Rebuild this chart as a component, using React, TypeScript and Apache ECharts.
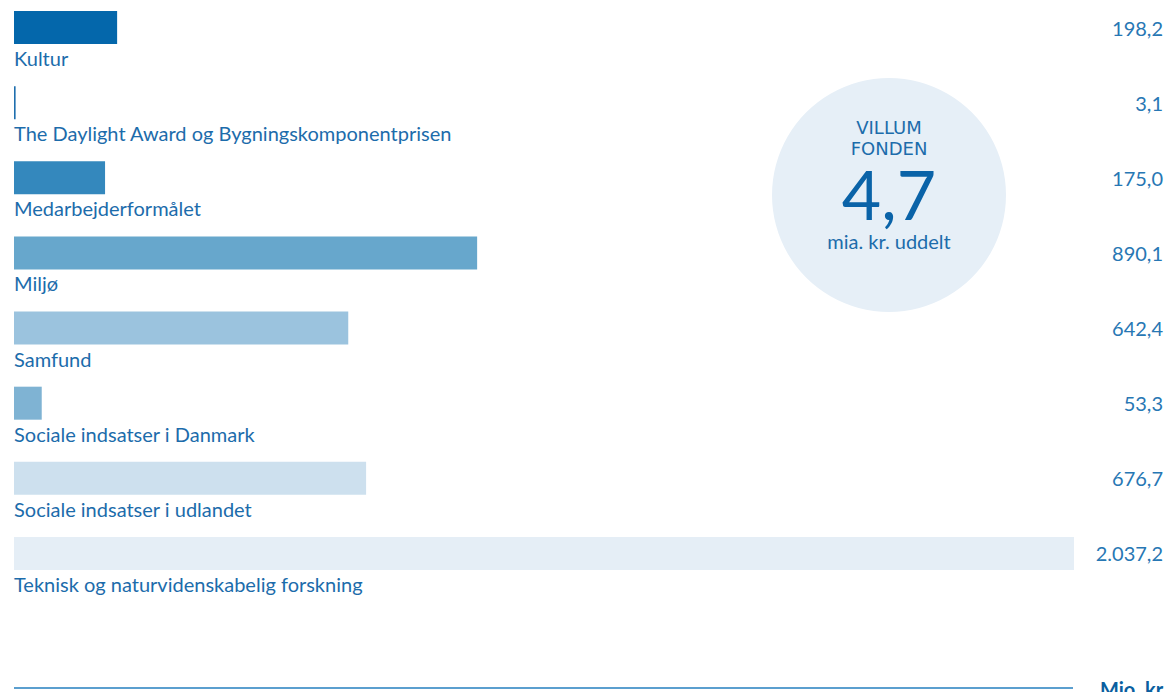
import React, { useEffect, useRef } from "react";
import * as echarts from "echarts";

const categories = [
  "Kultur",
  "The Daylight Award og Bygningskomponentprisen",
  "Medarbejderformålet",
  "Miljø",
  "Samfund",
  "Sociale indsatser i Danmark",
  "Sociale indsatser i udlandet",
  "Teknisk og naturvidenskabelig forskning",
];
const values = [198.2, 3.1, 175.0, 890.1, 642.4, 53.3, 676.7, 2037.2];
const barColors = [
  "#0467ab",
  "#1f6fae",
  "#3488bd",
  "#67a7cc",
  "#9bc3de",
  "#7fb3d3",
  "#cde0ee",
  "#e5eef6",
];
const unitLabel = "Mio. kr.";
const badgeTitle = ["VILLUM", "FONDEN"];
const badgeValue = "4,7";
const badgeSub = "mia. kr. uddelt";

const FONT = "Lato, 'Open Sans', sans-serif";
const TEXT = "#1c6cab";
const OFF = 10; // the chart div starts 10px above the page

function fmt(v: number): string {
  const [i, d] = v.toFixed(1).split(".");
  const withSep = i.replace(/\B(?=(\d{3})+(?!\d))/g, ".");
  return withSep + "," + d;
}

export default function App() {
  const ref = useRef<HTMLDivElement>(null);
  useEffect(() => {
    if (!ref.current) return;
    const chart = echarts.init(ref.current, null, { renderer: "svg" });
    chart.setOption({
      animation: false,
      grid: { left: 14, right: 100, top: 0, height: 601 },
      xAxis: {
        type: "value",
        min: 0,
        max: 2037.2,
        show: false,
      },
      yAxis: [
        {
          type: "category",
          data: categories,
          inverse: true,
          show: false,
        },
        {
          type: "category",
          data: values.map(fmt),
          inverse: true,
          position: "right",
          axisLine: { show: false },
          axisTick: { show: false },
          splitLine: { show: false },
          axisLabel: {
            align: "right",
            margin: 89,
            fontSize: 20,
            fontFamily: FONT,
            color: "#2777b4",
          },
        },
      ],
      graphic: [
        {
          type: "circle",
          shape: { cx: 889, cy: 195 + OFF, r: 117 },
          style: { fill: "#e6eff7" },
          z: 0,
        },
        {
          type: "text",
          x: 889,
          y: 137.5 + OFF,
          style: {
            text: badgeTitle.join("\n"),
            align: "center",
            verticalAlign: "middle",
            fontSize: 18,
            lineHeight: 21,
            fontFamily: "'DejaVu Sans', sans-serif",
            fill: TEXT,
          },
        },
        {
          type: "text",
          x: 889,
          y: 193 + OFF,
          style: {
            text: badgeValue,
            align: "center",
            verticalAlign: "middle",
            fontSize: 68,
            lineHeight: 54,
            fontFamily: FONT,
            fill: "#0a63a8",
          },
        },
        {
          type: "text",
          x: 889,
          y: 241 + OFF,
          style: {
            text: badgeSub,
            align: "center",
            verticalAlign: "middle",
            fontSize: 20,
            lineHeight: 18,
            fontFamily: FONT,
            fill: TEXT,
          },
        },
        {
          type: "line",
          shape: { x1: 14, y1: 688 + OFF, x2: 1073, y2: 688 + OFF },
          style: { stroke: "#5b9fcf", lineWidth: 2 },
        },
        {
          type: "text",
          x: 1100,
          y: 679 + OFF,
          style: {
            text: unitLabel,
            align: "left",
            verticalAlign: "top",
            fontSize: 20,
            fontWeight: "bold",
            fontFamily: FONT,
            fill: "#0a5fa0",
          },
        },
      ],
      series: [
        {
          type: "bar",
          yAxisIndex: 0,
          barWidth: 33,
          data: values.map((v, i) => ({
            value: v,
            itemStyle: { color: barColors[i] },
          })),
          label: {
            show: true,
            position: [0, 37],
            align: "left",
            verticalAlign: "top",
            fontSize: 20,
            fontFamily: FONT,
            color: TEXT,
            formatter: (p: any) => categories[p.dataIndex],
          },
        },
      ],
    });
    return () => chart.dispose();
  }, []);
  return (
    <div
      ref={ref}
      style={{ position: "absolute", left: 0, top: -OFF, width: 1174, height: 692 + OFF }}
    />
  );
}
